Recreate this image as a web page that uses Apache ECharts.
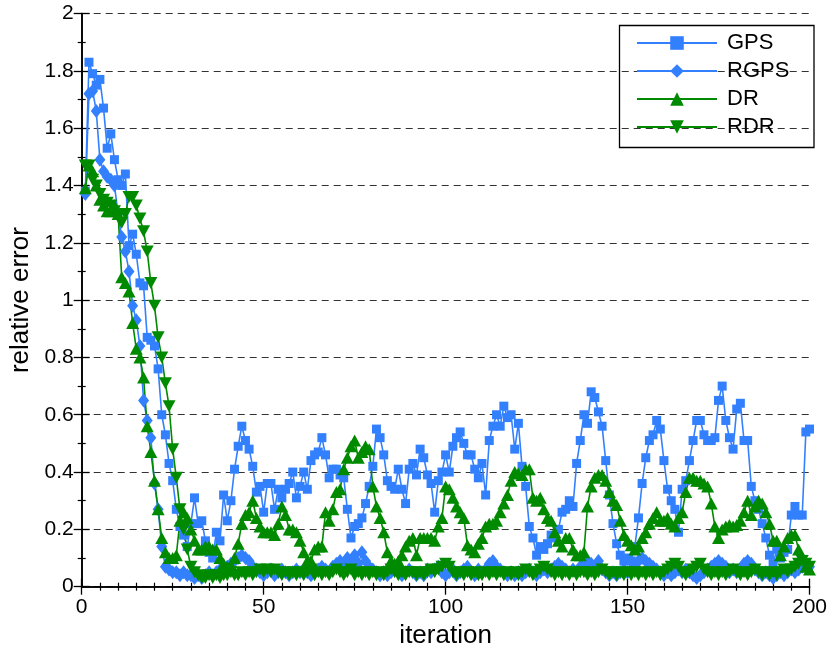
<!DOCTYPE html>
<html>
<head>
<meta charset="utf-8">
<script src="https://cdn.jsdelivr.net/npm/echarts@6/dist/echarts.min.js"></script>
<style>
html,body{margin:0;padding:0;background:#fff;}
#chart{width:830px;height:648px;}
</style>
</head>
<body>
<div id="chart"></div>
<script>
var seriesNames = ['GPS', 'RGPS', 'DR', 'RDR'];
var xTickLabels = ['0', '50', '100', '150', '200'];
var yTickLabels = ['0', '0.2', '0.4', '0.6', '0.8', '1', '1.2', '1.4', '1.6', '1.8', '2'];

var gps = [
1.38,1.83,1.79,1.75,1.77,1.67,1.53,1.58,1.49,1.42,
1.40,1.44,1.19,1.23,1.16,1.06,1.05,0.87,0.86,0.84,
0.76,0.60,0.53,0.43,0.37,0.27,0.21,0.18,0.14,0.22,
0.31,0.22,0.23,0.16,0.12,0.10,0.19,0.16,0.32,0.23,
0.30,0.41,0.49,0.56,0.51,0.48,0.42,0.33,0.35,0.26,
0.36,0.36,0.27,0.34,0.31,0.34,0.36,0.40,0.31,0.35,
0.40,0.34,0.44,0.46,0.47,0.52,0.46,0.38,0.41,0.41,
0.39,0.38,0.27,0.17,0.21,0.22,0.24,0.29,0.35,0.42,
0.55,0.52,0.46,0.37,0.35,0.34,0.41,0.34,0.29,0.41,
0.43,0.39,0.48,0.45,0.39,0.36,0.26,0.37,0.40,0.46,
0.40,0.49,0.52,0.54,0.50,0.46,0.46,0.41,0.38,0.43,
0.32,0.51,0.56,0.60,0.56,0.63,0.59,0.60,0.48,0.57,
0.42,0.35,0.21,0.17,0.11,0.14,0.13,0.15,0.18,0.17,
0.20,0.26,0.27,0.30,0.28,0.43,0.51,0.60,0.57,0.68,
0.66,0.61,0.56,0.44,0.32,0.22,0.15,0.11,0.09,0.10,
0.09,0.14,0.24,0.36,0.45,0.51,0.53,0.58,0.55,0.44,
0.34,0.30,0.27,0.19,0.34,0.37,0.44,0.51,0.58,0.58,
0.53,0.51,0.51,0.52,0.65,0.70,0.58,0.52,0.48,0.62,
0.64,0.51,0.51,0.35,0.30,0.27,0.22,0.17,0.11,0.08,
0.13,0.10,0.12,0.13,0.25,0.28,0.25,0.25,0.54,0.55
];

var rgps = [
1.37,1.72,1.73,1.66,1.49,1.45,1.43,1.42,1.40,1.30,
1.22,1.17,1.10,0.98,0.93,0.84,0.65,0.58,0.52,0.36,
0.27,0.14,0.07,0.06,0.05,0.05,0.04,0.05,0.04,0.04,
0.03,0.04,0.03,0.04,0.05,0.04,0.05,0.06,0.05,0.07,
0.08,0.09,0.10,0.11,0.10,0.09,0.07,0.06,0.05,0.04,
0.05,0.06,0.04,0.05,0.06,0.05,0.04,0.05,0.06,0.05,
0.06,0.05,0.04,0.05,0.06,0.07,0.06,0.05,0.07,0.08,
0.09,0.08,0.10,0.09,0.11,0.08,0.12,0.09,0.07,0.06,
0.05,0.04,0.05,0.04,0.05,0.06,0.05,0.04,0.05,0.06,
0.05,0.04,0.05,0.04,0.06,0.05,0.06,0.07,0.05,0.04,
0.05,0.06,0.04,0.05,0.06,0.07,0.05,0.04,0.06,0.05,
0.06,0.08,0.09,0.07,0.06,0.05,0.04,0.05,0.04,0.05,
0.04,0.05,0.06,0.05,0.04,0.05,0.06,0.05,0.06,0.07,
0.08,0.07,0.06,0.05,0.06,0.05,0.07,0.08,0.09,0.08,
0.07,0.09,0.06,0.05,0.04,0.05,0.04,0.05,0.06,0.05,
0.06,0.07,0.09,0.10,0.09,0.08,0.07,0.06,0.05,0.04,
0.05,0.04,0.05,0.06,0.05,0.06,0.05,0.04,0.03,0.04,
0.05,0.06,0.07,0.08,0.09,0.08,0.07,0.05,0.06,0.05,
0.06,0.08,0.09,0.08,0.06,0.05,0.04,0.05,0.04,0.03,
0.04,0.05,0.04,0.05,0.06,0.05,0.06,0.07,0.08,0.07
];

var dr = [
1.39,1.47,1.45,1.40,1.35,1.33,1.31,1.31,1.33,1.30,
1.08,1.06,1.03,0.92,0.83,0.80,0.73,0.56,0.47,0.37,
0.27,0.17,0.12,0.10,0.10,0.11,0.23,0.26,0.24,0.20,
0.16,0.13,0.13,0.14,0.14,0.13,0.13,0.10,0.08,0.07,
0.075,0.10,0.15,0.22,0.25,0.26,0.30,0.24,0.21,0.19,
0.19,0.19,0.18,0.22,0.28,0.25,0.20,0.20,0.19,0.16,
0.12,0.09,0.09,0.13,0.14,0.14,0.26,0.23,0.27,0.33,
0.34,0.41,0.45,0.49,0.51,0.45,0.47,0.49,0.48,0.35,
0.28,0.24,0.19,0.12,0.09,0.08,0.09,0.11,0.14,0.16,
0.17,0.11,0.17,0.17,0.17,0.17,0.16,0.21,0.24,0.35,
0.34,0.31,0.28,0.26,0.24,0.145,0.13,0.12,0.15,0.17,
0.21,0.22,0.22,0.23,0.26,0.29,0.32,0.37,0.40,0.395,
0.39,0.41,0.41,0.31,0.30,0.31,0.27,0.24,0.23,0.19,
0.16,0.14,0.17,0.17,0.13,0.11,0.11,0.12,0.28,0.35,
0.38,0.39,0.39,0.37,0.33,0.30,0.285,0.23,0.18,0.16,
0.145,0.13,0.14,0.17,0.19,0.22,0.24,0.26,0.23,0.23,
0.24,0.22,0.21,0.24,0.26,0.33,0.38,0.38,0.37,0.37,
0.36,0.35,0.29,0.21,0.17,0.20,0.21,0.215,0.21,0.215,
0.23,0.26,0.30,0.25,0.28,0.30,0.29,0.26,0.22,0.16,
0.16,0.11,0.14,0.17,0.18,0.18,0.13,0.10,0.07,0.06
];

var rdr = [
1.47,1.47,1.42,1.40,1.37,1.35,1.34,1.33,1.31,1.29,
1.27,1.30,1.36,1.36,1.33,1.285,1.24,1.17,1.06,0.98,
0.87,0.80,0.71,0.63,0.48,0.38,0.27,0.20,0.13,0.07,
0.05,0.04,0.03,0.03,0.04,0.03,0.04,0.03,0.04,0.04,
0.05,0.04,0.04,0.05,0.04,0.05,0.04,0.05,0.06,0.05,
0.06,0.05,0.06,0.05,0.04,0.05,0.04,0.05,0.04,0.05,
0.04,0.05,0.06,0.04,0.05,0.04,0.05,0.04,0.05,0.06,
0.05,0.04,0.05,0.06,0.04,0.05,0.04,0.05,0.04,0.05,
0.04,0.05,0.04,0.05,0.06,0.05,0.04,0.05,0.04,0.05,
0.05,0.04,0.05,0.04,0.05,0.06,0.05,0.06,0.07,0.08,
0.07,0.05,0.04,0.05,0.04,0.05,0.04,0.05,0.04,0.04,
0.05,0.04,0.05,0.04,0.05,0.04,0.05,0.04,0.05,0.04,
0.05,0.06,0.05,0.04,0.05,0.06,0.07,0.06,0.05,0.04,
0.05,0.04,0.05,0.04,0.05,0.04,0.05,0.05,0.04,0.05,
0.04,0.05,0.06,0.05,0.04,0.05,0.04,0.05,0.04,0.05,
0.04,0.05,0.04,0.05,0.04,0.05,0.04,0.05,0.04,0.05,
0.06,0.07,0.08,0.07,0.05,0.04,0.05,0.06,0.07,0.08,
0.06,0.05,0.04,0.05,0.04,0.05,0.04,0.05,0.06,0.05,
0.04,0.05,0.04,0.05,0.06,0.05,0.04,0.05,0.04,0.05,
0.04,0.05,0.06,0.05,0.06,0.07,0.08,0.09,0.08,0.07
];

var BLUE = '#3380ff';
var GREEN = '#008a00';
var FONT = 'Liberation Sans, Arial, sans-serif';

function pairs(vals) {
  var out = [];
  for (var i = 0; i < vals.length; i++) out.push([i + 1, vals[i]]);
  return out;
}

function mkSeries(name, vals, color, symbol, size, rotate) {
  return {
    name: name,
    type: 'line',
    data: pairs(vals),
    symbol: symbol,
    symbolSize: size,
    symbolRotate: rotate || 0,
    showSymbol: true,
    showAllSymbol: true,
    lineStyle: { color: color, width: 1.6 },
    itemStyle: { color: color, borderWidth: 0 },
    emphasis: { disabled: true },
    animation: false
  };
}

var axisLineStyle = { color: '#000', width: 1.6 };
var tickStyle = { color: '#000', width: 1.3 };
var minorStyle = { color: '#000', width: 1.2 };
var chart = echarts.init(document.getElementById('chart'), null, { renderer: 'canvas' });
chart.setOption({
  animation: false,
  backgroundColor: '#fff',
  textStyle: { fontFamily: FONT },
  grid: { left: 81.7, right: 20.5, top: 13.5, bottom: 61.3, containLabel: false, outerBoundsMode: 'none' },
  xAxis: [{
    type: 'value', min: 0, max: 200, interval: 50, position: 'bottom',
    name: 'iteration', nameLocation: 'middle', nameGap: 33,
    nameTextStyle: { fontSize: 26, color: '#000', fontFamily: FONT },
    axisLine: { show: true, lineStyle: axisLineStyle },
    axisTick: { show: true, inside: true, length: 8, lineStyle: tickStyle },
    minorTick: { show: true, splitNumber: 10, length: 4, lineStyle: minorStyle },
    splitLine: { show: false },
    axisLabel: { fontSize: 21, color: '#000', margin: 10, fontFamily: FONT,
      formatter: function (v) { return xTickLabels[Math.round(v / 50)]; } }
  }, {
    type: 'value', min: 0, max: 200, interval: 50, position: 'top',
    axisLine: { show: true, lineStyle: axisLineStyle },
    axisTick: { show: true, inside: true, length: 8, lineStyle: tickStyle },
    minorTick: { show: true, splitNumber: 10, length: 4, lineStyle: minorStyle },
    splitLine: { show: false },
    axisLabel: { show: false }
  }],
  yAxis: [{
    type: 'value', min: 0, max: 2, interval: 0.2, position: 'left',
    name: 'relative error', nameLocation: 'middle', nameGap: 46, nameRotate: 90,
    nameTextStyle: { fontSize: 26, color: '#000', fontFamily: FONT },
    axisLine: { show: true, lineStyle: axisLineStyle },
    axisTick: { show: true, inside: true, length: 8, lineStyle: tickStyle },
    minorTick: { show: true, splitNumber: 2, length: 4, lineStyle: minorStyle },
    splitLine: { show: true, lineStyle: { color: '#333', width: 1.2, type: [7, 5] } },
    axisLabel: { fontSize: 21, color: '#000', margin: 8, fontFamily: FONT,
      formatter: function (v) { return yTickLabels[Math.round(v / 0.2)]; } }
  }, {
    type: 'value', min: 0, max: 2, interval: 0.2, position: 'right',
    axisLine: { show: true, lineStyle: axisLineStyle },
    axisTick: { show: true, inside: true, length: 8, lineStyle: tickStyle },
    minorTick: { show: true, splitNumber: 2, length: 4, lineStyle: minorStyle },
    splitLine: { show: false },
    axisLabel: { show: false }
  }],
  legend: {
    show: true,
    orient: 'vertical',
    left: 636, top: 32,
    padding: 0,
    itemWidth: 80, itemHeight: 17, itemGap: 6,
    textStyle: { fontSize: 22, color: '#000', fontFamily: FONT, padding: [0, 0, 0, 5] },
    data: seriesNames,
    selectedMode: false
  },
  graphic: [{
    type: 'rect', shape: { x: 619.5, y: 25.5, width: 194.5, height: 122 },
    style: { fill: 'none', stroke: '#000', lineWidth: 1.3 }, z: 100, silent: true
  }],
  series: [
    mkSeries(seriesNames[0], gps, BLUE, 'rect', 9),
    mkSeries(seriesNames[1], rgps, BLUE, 'diamond', [11, 14]),
    mkSeries(seriesNames[2], dr, GREEN, 'triangle', [13, 12]),
    mkSeries(seriesNames[3], rdr, GREEN, 'triangle', [13, 12], 180)
  ]
});
</script>
</body>
</html>
